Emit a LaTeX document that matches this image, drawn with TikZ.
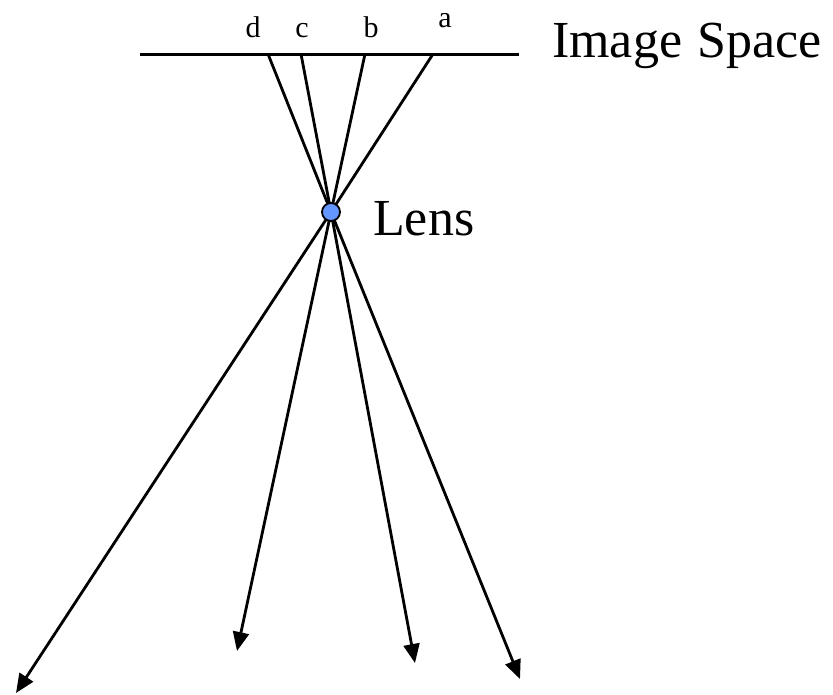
\documentclass[tikz,border=0pt]{standalone}
\usepackage{fontspec}
\setmainfont{Liberation Serif}
\usetikzlibrary{arrows.meta}
\definecolor{lensblue}{RGB}{100,150,255}
\tikzset{
  ray/.style={line width=2.8pt},
  rayarrow/.style={line width=2.8pt,-{Triangle[length=19pt,width=16pt]}},
  bigtext/.style={font=\fontsize{52}{60}\selectfont,inner sep=0pt,anchor=base west},
  smalltext/.style={font=\fontsize{30}{34}\selectfont,inner sep=0pt,anchor=base},
  lensdot/.style={circle,draw=black,line width=1.8pt,fill=lensblue,minimum size=18pt,inner sep=0pt}
}
\begin{document}
\begin{tikzpicture}[x=1pt,y=-1pt]
\useasboundingbox (0,0) rectangle (833,694);
% image plane
\coordinate (pl) at (140,54);
\coordinate (pr) at (519,54);
\draw[line width=3pt] (pl) -- (pr);
% points on image plane
\coordinate (pa) at (433,54);
\coordinate (pb) at (365,54);
\coordinate (pc) at (301,54);
\coordinate (pd) at (268,54);
% arrow tips
\coordinate (ta) at (16,693);
\coordinate (tb) at (237,651);
\coordinate (tc) at (415,663);
\coordinate (td) at (520,679);
\coordinate (lc) at (331,212);
% rays
\draw[ray] (pa) -- (lc);
\draw[ray] (pb) -- (lc);
\draw[ray] (pc) -- (lc);
\draw[ray] (pd) -- (lc);
\draw[rayarrow] (lc) -- (ta);
\draw[rayarrow] (lc) -- (tb);
\draw[rayarrow] (lc) -- (tc);
\draw[rayarrow] (lc) -- (td);
\node[lensdot] (lens) at (lc) {};
% labels
\node[smalltext] (la) at (445,27) {a};
\node[smalltext] (lb) at (371,37) {b};
\node[smalltext] (lcc) at (302,37) {c};
\node[smalltext] (ld) at (253,37) {d};
\node[bigtext] (img) at (552,57) {Image\hspace{0.3em}Space};
\node[bigtext] (lenslabel) at (373,235) {Lens};
\end{tikzpicture}
\end{document}
